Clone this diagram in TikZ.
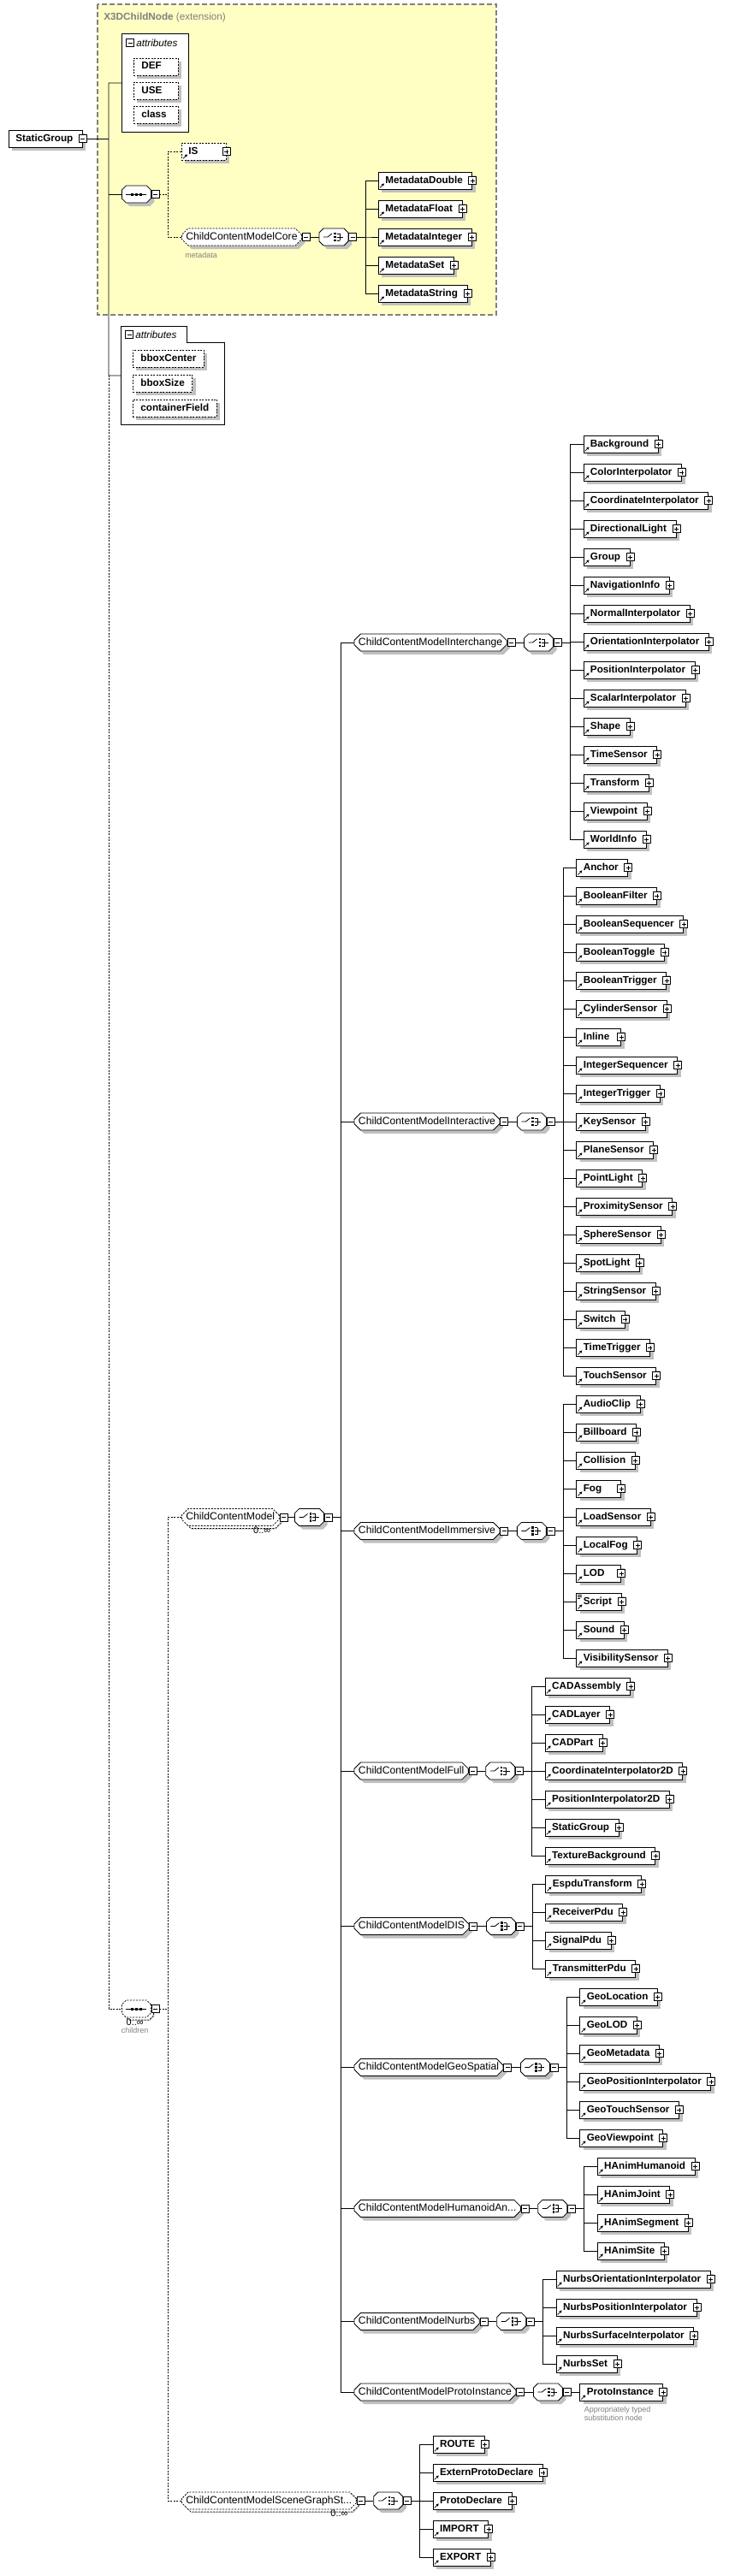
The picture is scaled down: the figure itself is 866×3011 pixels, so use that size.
\documentclass[tikz,border=0pt]{standalone}
\usepackage{fontspec}
\setmainfont{Liberation Sans}
\usetikzlibrary{
  arrows.meta,
  positioning,
  shapes.misc,
  shadows
}
\definecolor{basefill}{RGB}{255,255,196}
\definecolor{baseedge}{RGB}{128,128,128}
\definecolor{shadowgray}{RGB}{192,192,192}
\definecolor{notegray}{RGB}{128,128,128}
\newcommand{\elfont}{\fontsize{11.7}{13}\selectfont\bfseries}
\newcommand{\attfont}{\fontsize{11.7}{13}\selectfont\itshape}
\newcommand{\grpfont}{\fontsize{12.2}{13}\selectfont}
\newcommand{\occfont}{\fontsize{11}{12}\selectfont}
\newcommand{\notefont}{\fontsize{9}{10.5}\selectfont}
\newlength{\namewd}
% element label: left gap, at least 33pt of text, room for the plus box
\newcommand{\ename}[1]{\settowidth{\namewd}{#1}\ifdim\namewd<33pt\setlength{\namewd}{33pt}\fi
  \hspace*{8pt}\makebox[\namewd][l]{#1}\hspace*{11pt}}
\newcommand{\aname}[1]{\settowidth{\namewd}{#1}\ifdim\namewd<34pt\setlength{\namewd}{34pt}\fi
  \makebox[\namewd][l]{#1}}
% element box with its plus box and reference arrow
\newcommand{\elem}[4][]{%
  \node[elem,#1] (#2) at (#3) {\ename{#4}};
  \node[plus] (#2-t) at (#2.east) {};
  \draw[refarrow] ([shift={(2pt,2pt)}]#2.south west) -- ++(5pt,5pt);
}
% group reference -> choice -> elements
\newcommand{\branch}[6]{%
  \node[grp,#2] (#1) at (#3) {#4};
  \node[minus, right=0pt of #1] (#1-m) {};
  \node[comp, right=10pt of #1-m] (#1-c) {};
  \pic at (#1-c) {choiceicon};
  \node[minus, right=0pt of #1-c] (#1-cm) {};
  \draw[link] (#1-m.east) -- (#1-c.west);
  \coordinate (#1-x) at ([xshift=25pt]#1-cm.east);
  \foreach \nm [count=\idx from 0, evaluate=\idx as \ry using #5+33*\idx] in {#6} {
    \elem{#1-\idx}{#1-x |- 0,\ry}{\nm}
    \draw[link] (#1-cm.east) -- ++(10,0) |- (#1-\idx.west);
  }%
}

\begin{document}
\begin{tikzpicture}[
  x=1pt, y=-1pt,
  line width=0.8pt,
  boxshadow/.style={drop shadow={shadow xshift=4pt, shadow yshift=-4pt, fill=shadowgray, opacity=1}},
  opt/.style={dash pattern=on 2pt off 1.5pt},
  elem/.style={draw, fill=white, boxshadow, font=\elfont, anchor=west, minimum height=20pt,
    inner sep=0pt, text height=8.5pt, text depth=2.5pt},
  att/.style={elem, opt, inner xsep=9pt},
  grp/.style={draw, fill=white, boxshadow, chamfered rectangle, chamfered rectangle xsep=4pt,
    font=\grpfont, anchor=west, minimum height=20pt, inner xsep=1pt, inner ysep=0pt,
    text height=8.5pt, text depth=2.5pt},
  comp/.style={grp, minimum width=34pt},
  many/.style={general shadow={shadow xshift=3pt, shadow yshift=-3pt, draw, opt, fill=white}},
  tog/.style={draw, fill=white, minimum size=9pt, inner sep=0pt, line width=0.6pt},
  minus/.style={tog, path picture={\draw[line width=0.6pt]
    ([xshift=2pt]path picture bounding box.west) -- ([xshift=-2pt]path picture bounding box.east);}},
  plus/.style={tog, path picture={\draw[line width=0.6pt]
    ([xshift=2pt]path picture bounding box.west) -- ([xshift=-2pt]path picture bounding box.east)
    ([yshift=2pt]path picture bounding box.south) -- ([yshift=-2pt]path picture bounding box.north);}},
  link/.style={line width=0.8pt},
  refarrow/.style={-{Triangle[length=3pt, width=3pt]}, line width=0.7pt},
  note/.style={font=\notefont, text=notegray, inner sep=0pt},
  seqicon/.pic={
    \draw[line width=0.8pt] (-12,0) -- (12,0);
    \foreach \d in {-5,0,5} \fill (\d-1.5,-1.5) rectangle ++(3,3);
  },
  choiceicon/.pic={
    \draw[line width=0.8pt] (-12,0) -- (-7,0) -- (-2,-4);
    \foreach \d in {-4,0,4} {
      \fill (0,\d-1.2) rectangle ++(2.5,2.5);
      \draw[line width=0.7pt] (3.5,\d) -- (7,\d);
    }
    \draw[line width=0.7pt] (7,-4) -- (7,4) (7,0) -- (11,0);
  }
]
\useasboundingbox (0,0) rectangle (866,3011);

% base type
\draw[baseedge, fill=basefill, dash pattern=on 6pt off 3pt, line width=1.2pt] (114,5) rectangle (580,368);
\node[anchor=west, font=\elfont, text=baseedge, inner sep=0pt] (base) at (121,20) {X3DChildNode {\mdseries (extension)}};

% root element
\node[elem] (sg) at (10,162) {\ename{StaticGroup}};
\node[minus] (sg-m) at (sg.east) {};

% inherited attributes
\node[draw, fill=white, anchor=north west, minimum width=78, minimum height=115, inner sep=0pt] (attA) at (142,39) {};
\node[minus] (attA-m) at (152,50) {};
\node[anchor=west, font=\attfont, inner sep=0pt] (attA-h) at (159,50) {attributes};
\foreach \nm [count=\idx from 0, evaluate=\idx as \ry using 78+28*\idx] in {DEF,USE,class}
  \node[att] (attA-\idx) at (156,\ry) {\aname{\nm}};

% inherited sequence
\node[comp] (seqA) at (142,227) {};
\pic at (seqA) {seqicon};
\node[minus, right=0pt of seqA] (seqA-m) {};
\elem[opt]{is}{212,177}{IS}
\branch{core}{opt}{212,277}{ChildContentModelCore}{211}{MetadataDouble,MetadataFloat,MetadataInteger,MetadataSet,MetadataString}
\node[note, anchor=west] (core-n) at (216,298) {metadata};
\draw[link, opt] (seqA-m.east) -- ++(10,0) |- (is.west);
\draw[link, opt] (seqA-m.east) -- ++(10,0) |- (core.west);

% own attributes
\node[anchor=north west, minimum width=121, minimum height=115, inner sep=0pt] (attB) at (141,381) {};
\draw[fill=white] (attB.north west) -- ++(77,0) -- ++(0,19) -| (attB.south east) -- (attB.south west) -- cycle;
\node[minus] (attB-m) at (151,391) {};
\node[anchor=west, font=\attfont, inner sep=0pt] (attB-h) at (158,391) {attributes};
\foreach \nm [count=\idx from 0, evaluate=\idx as \ry using 419+29*\idx] in {bboxCenter,bboxSize,containerField}
  \node[att] (attB-\idx) at (155,\ry) {\aname{\nm}};

% trunk
\coordinate (tr) at (127,97);
\draw[link] (sg-m.east) -- (sg-m.east -| tr);
\draw[link] (attA.west) -- (tr) |- (attB.west);
\draw[link] (seqA.west) -- (seqA.west -| tr);

% children sequence
\node[comp, opt, many] (seqB) at (142,2348) {};
\pic at (seqB) {seqicon};
\node[minus, right=0pt of seqB] (seqB-m) {};
\node[font=\occfont, anchor=north east, inner sep=0pt] (seqB-n) at ([xshift=-6pt, yshift=-4pt]seqB.south east) {0..∞};
\node[note, anchor=north] (seqB-l) at ([yshift=-1pt]seqB-n.south) {children};
\draw[link, opt] (attB.west -| tr) |- (seqB.west);

% ChildContentModel
\node[grp, opt, many] (cm) at (212,1773.5) {ChildContentModel};
\node[minus, right=0pt of cm] (cm-m) {};
\node[comp, right=8pt of cm-m] (cm-c) {};
\pic at (cm-c) {choiceicon};
\node[minus, right=0pt of cm-c] (cm-cm) {};
\draw[link] (cm-m.east) -- (cm-c.west);
\node[font=\occfont, anchor=north east, inner sep=0pt] (cm-n) at ([xshift=-6pt, yshift=-4pt]cm.south east) {0..∞};
\coordinate (gx) at ([xshift=25pt]cm-cm.east);

\branch{ich}{}{gx |- 0,751}{ChildContentModelInterchange}{519}{Background,ColorInterpolator,CoordinateInterpolator,DirectionalLight,Group,NavigationInfo,NormalInterpolator,OrientationInterpolator,PositionInterpolator,ScalarInterpolator,Shape,TimeSensor,Transform,Viewpoint,WorldInfo}
\branch{ict}{}{gx |- 0,1311}{ChildContentModelInteractive}{1014}{Anchor,BooleanFilter,BooleanSequencer,BooleanToggle,BooleanTrigger,CylinderSensor,Inline,IntegerSequencer,IntegerTrigger,KeySensor,PlaneSensor,PointLight,ProximitySensor,SphereSensor,SpotLight,StringSensor,Switch,TimeTrigger,TouchSensor}
\branch{imm}{}{gx |- 0,1789.5}{ChildContentModelImmersive}{1641}{AudioClip,Billboard,Collision,Fog,LoadSensor,LocalFog,LOD,Script,Sound,VisibilitySensor}
\draw[line width=0.6pt] ([shift={(2pt,-3pt)}]imm-7.north west) -- ++(5pt,0pt)
  ([shift={(2pt,-5pt)}]imm-7.north west) -- ++(5pt,0pt)
  ([shift={(2pt,-7pt)}]imm-7.north west) -- ++(3pt,0pt);
\branch{full}{}{gx |- 0,2070}{ChildContentModelFull}{1971}{CADAssembly,CADLayer,CADPart,CoordinateInterpolator2D,PositionInterpolator2D,StaticGroup,TextureBackground}
\branch{dis}{}{gx |- 0,2251.5}{ChildContentModelDIS}{2202}{EspduTransform,ReceiverPdu,SignalPdu,TransmitterPdu}
\branch{geo}{}{gx |- 0,2416.5}{ChildContentModelGeoSpatial}{2334}{GeoLocation,GeoLOD,GeoMetadata,GeoPositionInterpolator,GeoTouchSensor,GeoViewpoint}
\branch{hanim}{}{gx |- 0,2581.5}{ChildContentModelHumanoidAn...}{2532}{HAnimHumanoid,HAnimJoint,HAnimSegment,HAnimSite}
\branch{nurbs}{}{gx |- 0,2713.5}{ChildContentModelNurbs}{2664}{NurbsOrientationInterpolator,NurbsPositionInterpolator,NurbsSurfaceInterpolator,NurbsSet}

% ProtoInstance has a single choice
\node[grp] (proto) at (gx |- 0,2796) {ChildContentModelProtoInstance};
\node[minus, right=0pt of proto] (proto-m) {};
\node[comp, right=10pt of proto-m] (proto-c) {};
\pic at (proto-c) {choiceicon};
\node[minus, right=0pt of proto-c] (proto-cm) {};
\draw[link] (proto-m.east) -- (proto-c.west);
\elem{proto-0}{[xshift=10pt]proto-cm.east}{ProtoInstance}
\draw[link] (proto-cm.east) -- (proto-0.west);
\node[note, anchor=north west, align=left] (proto-n) at ([xshift=5pt, yshift=-6pt]proto-0.south west) {Appropriately typed\\substitution node};

\foreach \g in {ich,ict,imm,full,dis,geo,hanim,nurbs,proto}
  \draw[link] (cm-cm.east) -- ++(10,0) |- (\g.west);

% scene graph structure
\branch{scn}{opt, many}{212,2923}{ChildContentModelSceneGraphSt...}{2857}{ROUTE,ExternProtoDeclare,ProtoDeclare,IMPORT,EXPORT}
\node[font=\occfont, anchor=north east, inner sep=0pt] (scn-n) at ([xshift=-6pt, yshift=-4pt]scn.south east) {0..∞};

\draw[link, opt] (seqB-m.east) -- ++(10,0) |- (cm.west);
\draw[link, opt] (seqB-m.east) -- ++(10,0) |- (scn.west);
\end{tikzpicture}
\end{document}
